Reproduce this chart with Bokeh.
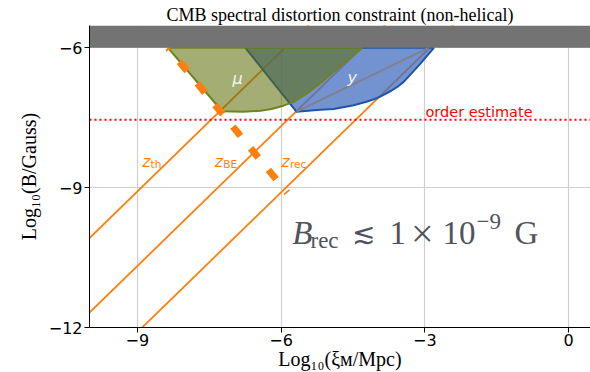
from bokeh.plotting import figure
from bokeh.models import Range1d, Label, FixedTicker
from bokeh.embed import file_html
from bokeh.resources import INLINE

# ---------------- data ----------------
x_ticks = [-9, -6, -3, 0]
y_ticks = [-12, -9, -6]
tick_text = {-12: "\u221212", -9: "\u22129", -6: "\u22126", -3: "\u22123", 0: "0"}

title_text = "CMB spectral distortion constraint (non-helical)"
x_label = "Log\u2081\u2080(\u03be\u1d0d/Mpc)"
y_label = "Log\u2081\u2080(B/Gauss)"

# orange characteristic lines (two end points each, log10 xi vs log10 B)
zth_x = [-10.0, -5.4]
zth_y = [-10.08, -5.48]
zbe_x = [-10.0, -3.8]
zbe_y = [-11.68, -5.48]
zrec_x = [-10.0, -2.3]
zrec_y = [-13.1, -5.4]

# mu-distortion region
mu_x = [-8.36, -7.23, -6.8, -6.43, -6.2, -5.95, -5.74, -5.45, -5.18, -4.75, -4.31]
mu_y = [-6.0, -7.36, -7.37, -7.35, -7.31, -7.24, -7.16, -6.97, -6.76, -6.38, -6.0]

# y-distortion region
yr_x = [-6.745, -5.68, -5.18, -4.9, -4.485, -4.2, -4.05, -3.92, -3.7, -3.55, -3.44, -3.1, -2.81]
yr_y = [-6.0, -7.37, -7.33, -7.31, -7.23, -7.15, -7.10, -7.04, -6.92, -6.82, -6.73, -6.35, -6.0]

# grey line inside the y region
gl_x = [-5.68, -2.92]
gl_y = [-7.37, -6.0]

# thick dashed line (B_rec)
dash_x = [-8.36, -5.87]
dash_y = [-6.0, -9.11]

order_estimate_y = -7.54
band_bottom, band_top = -6.0, -5.52
x_lo, x_hi = -10.0, 0.46
y_lo, y_hi = -12.0, -5.52

# ---------------- figure ----------------
W, H = 590, 372
L, R, T, B = 89, 0, 25, 44
p = figure(width=W, height=H, x_range=Range1d(x_lo, x_hi), y_range=Range1d(y_lo, y_hi),
           output_backend="svg", toolbar_location=None,
           min_border_left=L, min_border_right=R, min_border_top=T, min_border_bottom=B,
           background_fill_color="white", border_fill_color="white")
p.outline_line_color = None

p.title.text = title_text
p.title.text_font = "Liberation Serif"
p.title.text_font_size = "18px"
p.title.text_font_style = "normal"
p.title.text_color = "black"
p.title.align = "center"
p.title.standoff = 2

fw, fh = W - L - R, H - T - B


def X(px):
    return x_lo + (px - L) * (x_hi - x_lo) / fw


def Y(py):
    return y_lo + (T + fh - py) * (y_hi - y_lo) / fh


for ax, ticks in ((p.xaxis, x_ticks), (p.yaxis, y_ticks)):
    ax.ticker = FixedTicker(ticks=ticks)
    ax.major_label_overrides = {t: tick_text[t] for t in ticks}
    ax.major_tick_out = 5
    ax.major_tick_in = 0
    ax.minor_tick_out = 0
    ax.minor_tick_in = 0
    ax.axis_line_color = "black"
    ax.major_tick_line_color = "black"
    ax.major_label_text_font = "DejaVu Sans"
    ax.major_label_text_font_size = "16px"
    ax.major_label_text_color = "black"
    ax.axis_label_text_font = "Liberation Serif"
    ax.axis_label_text_font_size = "20px"
    ax.axis_label_text_font_style = "normal"
    ax.axis_label_text_color = "black"
p.xaxis.axis_label = x_label
p.yaxis.axis_label = y_label
p.xaxis.major_label_standoff = 1
p.yaxis.major_label_standoff = 2
p.xaxis.axis_label_standoff = -1
p.yaxis.axis_label_standoff = 6
p.xgrid.grid_line_color = "#cfcfcf"
p.ygrid.grid_line_color = "#cfcfcf"
p.xgrid.grid_line_width = 1.2
p.ygrid.grid_line_width = 1.2

orange = "#ff7f0e"
for xs, ys in ((zth_x, zth_y), (zbe_x, zbe_y), (zrec_x, zrec_y)):
    p.line(xs, ys, line_color=orange, line_width=1.8)

p.patch(yr_x, yr_y, fill_color="#446ec0", fill_alpha=0.75, line_color="#1f55a8", line_width=2)
p.line(gl_x, gl_y, line_color="#80808c", line_width=2)
p.patch(mu_x, mu_y, fill_color="#5c6c07", fill_alpha=0.56, line_color="#6d8420", line_width=2)

p.line([x_lo, x_hi], [order_estimate_y, order_estimate_y], line_color="red", line_width=2,
       line_dash="2 3")
p.line(dash_x, dash_y, line_color=orange, line_width=7, line_dash="12 16", line_dash_offset=10)

p.quad(left=[x_lo], right=[x_hi], bottom=[band_bottom], top=[band_top],
       fill_color="#737373", line_color=None)


def lab(px, py, text, size, font="Liberation Serif", style="normal", color="black",
        align="left", baseline="alphabetic", angle=0.0):
    p.add_layout(Label(x=X(px), y=Y(py), text=text, text_font=font,
                       text_font_size=f"{size}px", text_font_style=style, text_color=color,
                       text_align=align, text_baseline=baseline, angle=angle))


# region labels
lab(237, 78.3, "\u03bc", 16, font="DejaVu Sans", style="italic", color="#f4f4f4",
    align="center", baseline="middle")
lab(351.7, 77.5, "y", 16, font="DejaVu Sans", style="italic", color="#f4f4f4",
    align="center", baseline="middle")

# z labels
for zx, sub in ((141.7, "th"), (214.3, "BE"), (281.0, "rec")):
    lab(zx, 161.7, "z", 15.5, font="DejaVu Sans", style="italic", color=orange)
    lab(zx + 8.4, 164.0, sub, 10.5, font="DejaVu Sans", color=orange)

# order estimate
lab(425, 112, "order estimate", 14.5, font="DejaVu Sans", color="red")

# big formula
fc = "#4f545c"
lab(291.7, 232.7, "B", 33, style="italic", color=fc)
lab(310.0, 240.5, "rec", 23, color=fc)
lab(351.0, 234.0, "\u2272", 28, font="DejaVu Serif", color=fc)
lab(389.0, 232.7, "1", 33, color=fc)
lab(410.5, 233.5, "\u00d7", 40, color=fc)
lab(442.0, 232.7, "10", 33, color=fc)
lab(476.0, 221.5, "\u22129", 23, color=fc)
lab(514.0, 232.7, "G", 33, color=fc)

open("out.html", "w").write(file_html(p, INLINE))
